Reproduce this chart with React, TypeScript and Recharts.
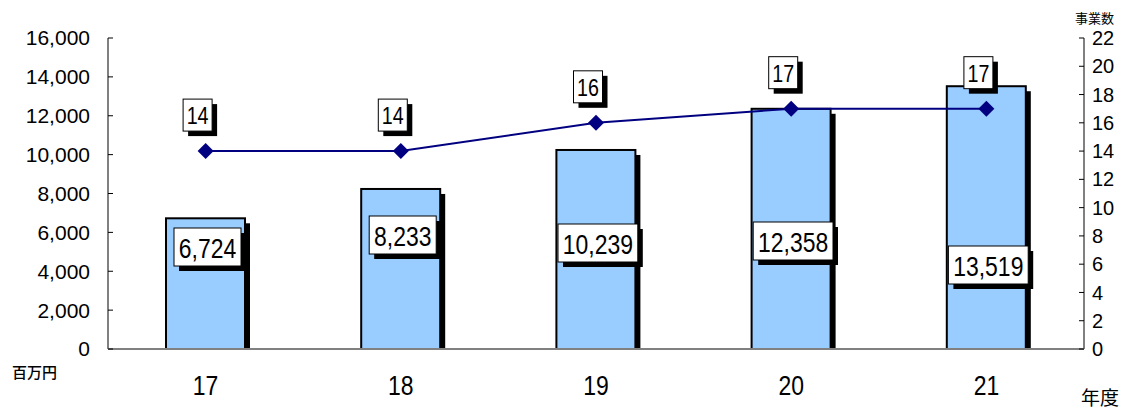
import { ComposedChart, Bar, Line, XAxis, YAxis, LabelList } from "recharts";

const YEARS = ["17", "18", "19", "20", "21"];
const AMOUNTS = [6724, 8233, 10239, 12358, 13519];
const PROJECTS = [14, 14, 16, 17, 17];
const AMOUNT_TICKS = [0, 2000, 4000, 6000, 8000, 10000, 12000, 14000, 16000];
const PROJECT_TICKS = [0, 2, 4, 6, 8, 10, 12, 14, 16, 18, 20, 22];
// how far above the base each amount label sits (px)
const LABEL_RISE = [102, 114, 106, 108, 84];

const FONT = "'Liberation Sans', Arial, sans-serif";
const JP = "'Noto Sans CJK JP', sans-serif";
const NARROW = 0.82;

const data = YEARS.map((year, i) => ({
  year,
  amount: AMOUNTS[i],
  projects: PROJECTS[i],
}));

function ShadowBar(props: any) {
  const { x, y, width, height } = props;
  if (!height) return null;
  return (
    <g>
      <rect x={x + 5} y={y + 5} width={width} height={Math.max(height - 5, 0)} fill="#000" />
      <rect x={x} y={y} width={width} height={height} fill="#99CCFF" stroke="#000" strokeWidth={2} />
    </g>
  );
}

function BoxLabel({ cx, cy, text, fontSize, w, h }: any) {
  return (
    <g>
      <rect x={cx - w / 2 + 5} y={cy - h / 2 + 5} width={w} height={h} fill="#000" />
      <rect x={cx - w / 2} y={cy - h / 2} width={w} height={h} fill="#fff" stroke="#000" strokeWidth={1} />
      <g transform={`translate(${cx},${cy})`}>
        <text
          transform={`scale(${NARROW},1)`}
          x={0}
          y={1}
          textAnchor="middle"
          dominantBaseline="central"
          fontSize={fontSize}
          fontFamily={FONT}
          fill="#000"
        >
          {text}
        </text>
      </g>
    </g>
  );
}

function AmountLabel(props: any) {
  const vb = props.viewBox ?? props;
  const { x, y, width, height } = vb;
  const idx = props.index ?? 0;
  const text = Number(props.value).toLocaleString("en-US");
  const w = text.replace(",", "").length * 12.8 + 7.8 + 8;
  const cx = x + width / 2 + 2;
  const cy = y + height - LABEL_RISE[idx];
  return <BoxLabel cx={cx} cy={cy} text={text} fontSize={28} w={w} h={38} />;
}

function CountLabel(props: any) {
  const vb = props.viewBox ?? props;
  return <BoxLabel cx={vb.x - 8} cy={vb.y - 36} text={String(props.value)} fontSize={24} w={29} h={32} />;
}

function Diamond(props: any) {
  const { cx, cy } = props;
  if (cx == null || cy == null) return null;
  const r = 8;
  return (
    <path
      d={`M${cx},${cy - r} L${cx + r},${cy} L${cx},${cy + r} L${cx - r},${cy} Z`}
      fill="#000080"
    />
  );
}

function YearTick(props: any) {
  const { x, y, payload } = props;
  return (
    <g transform={`translate(${x},${y})`}>
      <text
        transform={`scale(${NARROW},1)`}
        textAnchor="middle"
        dy="0.71em"
        fontSize={28}
        fontFamily={FONT}
        fill="#000"
      >
        {payload.value}
      </text>
    </g>
  );
}

export default function App() {
  return (
    <div style={{ position: "relative", width: 1124, height: 409, background: "#fff" }}>
      <style>{`body{margin:0}`}</style>
      <ComposedChart
        width={1124}
        height={409}
        data={data}
        margin={{ top: 38, right: 0, left: 48, bottom: 30 }}
        style={{ fontFamily: FONT }}
      >
        <XAxis
          dataKey="year"
          axisLine={{ stroke: "#808080", strokeWidth: 2 }}
          tickLine={false}
          tickMargin={20}
          height={30}
          tick={YearTick}
        />
        <YAxis
          yAxisId="left"
          orientation="left"
          domain={[0, 16000]}
          ticks={AMOUNT_TICKS}
          interval={0}
          width={60}
          tickFormatter={(v: number) => v.toLocaleString("en-US")}
          axisLine={{ stroke: "#808080", strokeWidth: 2 }}
          tickLine={{ stroke: "#000" }}
          tickSize={-5}
          tickMargin={23}
          tick={{ fontSize: 21, fill: "#000" }}
        />
        <YAxis
          yAxisId="right"
          orientation="right"
          domain={[0, 22]}
          ticks={PROJECT_TICKS}
          interval={0}
          width={40}
          axisLine={{ stroke: "#808080", strokeWidth: 2 }}
          tickLine={{ stroke: "#000" }}
          tickSize={-5}
          tickMargin={13}
          tick={{ fontSize: 20, fill: "#000", textAnchor: "start" }}
        />
        <Bar
          yAxisId="left"
          dataKey="amount"
          barSize={79}
          shape={ShadowBar}
          isAnimationActive={false}
        >
          <LabelList dataKey="amount" content={AmountLabel} />
        </Bar>
        <Line
          yAxisId="right"
          type="linear"
          dataKey="projects"
          stroke="#000080"
          strokeWidth={2}
          dot={Diamond}
          activeDot={false}
          isAnimationActive={false}
        >
          <LabelList dataKey="projects" content={CountLabel} />
        </Line>
      </ComposedChart>
      <span
        style={{
          position: "absolute",
          left: 12,
          top: 363,
          fontFamily: JP,
          fontSize: 15,
          fontWeight: 500,
          lineHeight: "18px",
        }}
      >
        百万円
      </span>
      <span
        style={{
          position: "absolute",
          left: 1075,
          top: 10,
          fontFamily: JP,
          fontSize: 13,
          lineHeight: "16px",
        }}
      >
        事業数
      </span>
      <span
        style={{
          position: "absolute",
          left: 1081,
          top: 386,
          fontFamily: JP,
          fontSize: 19,
          lineHeight: "22px",
        }}
      >
        年度
      </span>
    </div>
  );
}
